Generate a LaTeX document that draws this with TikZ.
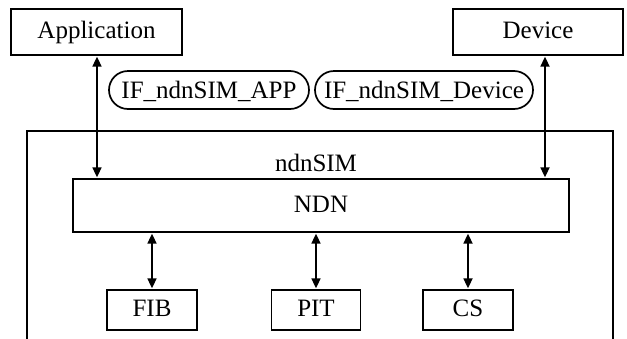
\documentclass[tikz,border=0pt]{standalone}
\usepackage{fontspec}
\setmainfont{Liberation Serif}
\usetikzlibrary{arrows.meta}
\begin{document}
\begin{tikzpicture}[x=1pt,y=-1pt,
  lbl/.style={font=\fontsize{25}{29}\selectfont},
  box/.style={draw, line width=1.7pt, inner sep=0pt, lbl, text height=18pt, text depth=4.5pt},
  pill/.style={draw, line width=1.7pt, rounded corners=19pt, inner sep=0pt,
    minimum height=38pt, lbl, text height=20pt, text depth=3pt},
  dbl/.style={line width=1.7pt, {Triangle[length=10pt,width=9pt]}-{Triangle[length=10pt,width=9pt]}, shorten <=0.8pt, shorten >=0.8pt}]
\useasboundingbox (0,0) rectangle (627,338);
% outer ndnSIM container, open at the bottom edge
\draw[line width=1.7pt] (27,345) -- (27,131) -- (613,131) -- (613,345);
\node[lbl] (sim) at (316,163) {ndnSIM};
% top-level boxes
\node[box, minimum width=171pt, minimum height=46pt] (app) at (96.5,32) {Application};
\node[box, minimum width=170pt, minimum height=46pt] (dev) at (538,32) {Device};
% interface labels
\node[pill, minimum width=200pt] (ifapp) at (209,90) {IF\_ndnSIM\_APP};
\node[pill, minimum width=218pt] (ifdev) at (424,90) {IF\_ndnSIM\_Device};
% NDN core
\node[box, minimum width=496pt, minimum height=53pt] (ndn) at (321,205.5) {NDN};
% tables
\node[box, minimum width=90pt, minimum height=40pt] (fib) at (152,310) {FIB};
\node[box, minimum width=89pt, minimum height=40pt] (pit) at (316,310) {PIT};
\node[box, minimum width=90pt, minimum height=40pt] (cs) at (468,310) {CS};
% connectors
\draw[dbl] ([xshift=0.5pt]app.south) -- ([xshift=0.5pt]app.south |- ndn.north);
\draw[dbl] ([xshift=7pt]dev.south) -- ([xshift=7pt]dev.south |- ndn.north);
\draw[dbl] (fib.north |- ndn.south) -- (fib.north);
\draw[dbl] (pit.north |- ndn.south) -- (pit.north);
\draw[dbl] (cs.north |- ndn.south) -- (cs.north);
\end{tikzpicture}
\end{document}
